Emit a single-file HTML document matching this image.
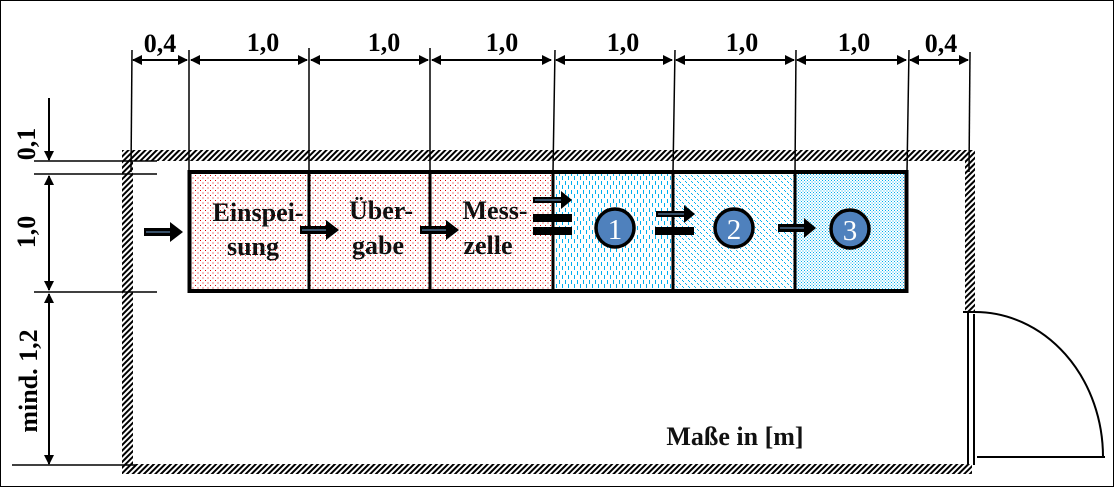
<!DOCTYPE html>
<html><head><meta charset="utf-8"><style>
html,body{margin:0;padding:0;background:#fff}
svg{display:block}
text{font-family:"Liberation Serif",serif;font-weight:bold}
</style></head><body>
<svg width="1114" height="487" viewBox="0 0 1114 487" xmlns="http://www.w3.org/2000/svg">
<defs>
<pattern id="hatch" width="4" height="4" patternUnits="userSpaceOnUse" patternTransform="rotate(45)">
<rect width="4" height="4" fill="#fff"/><rect width="2" height="4" fill="#000"/></pattern>
<pattern id="red" width="5" height="5" patternUnits="userSpaceOnUse">
<rect width="5" height="5" fill="#fff"/><rect x="0" y="0" width="1" height="1" fill="#d00"/><rect x="2.5" y="2.5" width="1" height="1" fill="#d00"/></pattern>
<pattern id="dash" width="6" height="9" patternUnits="userSpaceOnUse">
<rect width="6" height="9" fill="#fff"/><rect x="1" y="1" width="1" height="4" fill="#00aeef"/><rect x="4" y="5" width="1" height="4" fill="#00aeef"/></pattern>
<pattern id="chev" width="6" height="6" patternUnits="userSpaceOnUse">
<rect width="6" height="6" fill="#fff"/><rect x="1" y="1" width="1" height="1" fill="#00aeef"/><rect x="2" y="2" width="1" height="1" fill="#00aeef"/><rect x="4" y="4" width="1" height="1" fill="#00aeef"/><rect x="5" y="5" width="1" height="1" fill="#00aeef"/></pattern>
<pattern id="dot" width="3" height="3" patternUnits="userSpaceOnUse">
<rect width="3" height="3" fill="#fff"/><rect x="0" y="0" width="1" height="1" fill="#00aeef"/><rect x="1.5" y="1.5" width="1" height="1" fill="#00aeef"/></pattern>
<marker id="ah" markerWidth="10" markerHeight="10" refX="9" refY="5" orient="auto-start-reverse" markerUnits="userSpaceOnUse">
<path d="M0,0 L10,5 L0,10 z" fill="#000"/></marker>
</defs>
<rect x="0.5" y="0.5" width="1113" height="486" fill="#fff" stroke="#000"/>
<rect x="122" y="150" width="853" height="11" fill="url(#hatch)"/>
<rect x="122" y="150" width="11" height="324" fill="url(#hatch)"/>
<rect x="122" y="464" width="850" height="10" fill="url(#hatch)"/>
<rect x="965" y="150" width="10" height="162" fill="url(#hatch)"/>
<line x1="968" y1="312" x2="968" y2="465" stroke="#000" stroke-width="2"/>
<line x1="974" y1="314" x2="974" y2="465" stroke="#000" stroke-width="2"/>
<line x1="963" y1="312" x2="976" y2="312" stroke="#000" stroke-width="2"/>
<path d="M975,312 A128,145 0 0 1 1103,457" fill="none" stroke="#000" stroke-width="2"/>
<line x1="977" y1="457" x2="1105" y2="457" stroke="#000" stroke-width="2"/>
<rect x="189" y="172" width="364" height="119" fill="url(#red)"/>
<rect x="553" y="172" width="120" height="119" fill="url(#dash)"/>
<rect x="673" y="172" width="122" height="119" fill="url(#chev)"/>
<rect x="795" y="172" width="112" height="119" fill="url(#dot)"/>
<rect x="189.5" y="172" width="717" height="119" fill="none" stroke="#000" stroke-width="4"/>
<g stroke="#000" stroke-width="3">
<line x1="309" y1="172" x2="309" y2="291"/><line x1="430" y1="172" x2="430" y2="291"/>
<line x1="553" y1="172" x2="553" y2="291"/><line x1="673" y1="172" x2="673" y2="291"/>
<line x1="795" y1="172" x2="795" y2="291"/></g>
<g stroke="#000" stroke-width="1.5">
<line x1="132" y1="50" x2="131" y2="172"/><line x1="189" y1="50" x2="189" y2="172"/>
<line x1="309" y1="48" x2="309" y2="172"/><line x1="430" y1="48" x2="430" y2="172"/>
<line x1="555" y1="50" x2="553" y2="172"/><line x1="675" y1="50" x2="673" y2="172"/>
<line x1="796" y1="50" x2="795" y2="172"/><line x1="909" y1="50" x2="907" y2="172"/>
<line x1="970" y1="52" x2="969" y2="172"/>
</g>
<g stroke="#000" stroke-width="2" marker-start="url(#ah)" marker-end="url(#ah)">
<line x1="133" y1="60" x2="187" y2="60"/><line x1="191" y1="60" x2="307" y2="60"/>
<line x1="311" y1="60" x2="428" y2="60"/><line x1="432" y1="60" x2="551" y2="60"/>
<line x1="556" y1="60" x2="672" y2="60"/><line x1="676" y1="60" x2="794" y2="60"/>
<line x1="797" y1="60" x2="906" y2="60"/><line x1="910" y1="60" x2="968" y2="60"/>
</g>
<g font-size="26" text-anchor="middle">
<text x="160" y="52">0,4</text><text x="263" y="51">1,0</text><text x="384" y="51">1,0</text>
<text x="502" y="51">1,0</text><text x="623" y="51">1,0</text><text x="742" y="51">1,0</text>
<text x="854" y="51">1,0</text><text x="941" y="52">0,4</text>
</g>
<g stroke="#000" stroke-width="1.5">
<line x1="34" y1="161" x2="157" y2="161"/><line x1="34" y1="174" x2="157" y2="174"/>
<line x1="34" y1="292" x2="157" y2="292"/><line x1="12" y1="465" x2="135" y2="465"/>
</g>
<line x1="49" y1="98" x2="49" y2="160" stroke="#000" stroke-width="2" marker-end="url(#ah)"/>
<line x1="49" y1="176" x2="49" y2="290" stroke="#000" stroke-width="2" marker-start="url(#ah)" marker-end="url(#ah)"/>
<line x1="49" y1="294" x2="49" y2="464" stroke="#000" stroke-width="2" marker-start="url(#ah)" marker-end="url(#ah)"/>
<g font-size="26" text-anchor="middle">
<text transform="translate(35,144) rotate(-90)">0,1</text>
<text transform="translate(35,232) rotate(-90)">1,0</text>
<text transform="translate(37,381) rotate(-90)">mind. 1,2</text>
</g>
<g font-size="26" text-anchor="middle" fill="#111">
<text x="258" y="221">Einspei-</text><text x="253" y="255">sung</text>
<text x="381" y="219">Über-</text><text x="378" y="254">gabe</text>
<text x="495" y="219">Mess-</text><text x="488" y="254">zelle</text>
<text x="735" y="445">Maße in [m]</text>
</g>
<g>
<path d="M144,228 h26 v-6 l13,10 l-13,10 v-6 h-26z" fill="#000"/><line x1="146" y1="232" x2="170" y2="232" stroke="#4a6a8a" stroke-width="1.5"/>
<path d="M300,226 h26 v-6 l13,10 l-13,10 v-6 h-26z" fill="#000"/><line x1="302" y1="230" x2="326" y2="230" stroke="#4a6a8a" stroke-width="1.5"/>
<path d="M420,226 h26 v-6 l13,10 l-13,10 v-6 h-26z" fill="#000"/><line x1="422" y1="230" x2="446" y2="230" stroke="#4a6a8a" stroke-width="1.5"/>
<path d="M533,197 h28 v-6 l11,9 l-11,9 v-6 h-28z" fill="#000"/><line x1="535" y1="200" x2="561" y2="200" stroke="#4a6a8a" stroke-width="1.5"/>
<rect x="533" y="214" width="39" height="8" fill="#000"/><rect x="533" y="227" width="39" height="8" fill="#000"/>
<path d="M656,211 h28 v-6 l11,9 l-11,9 v-6 h-28z" fill="#000"/><line x1="658" y1="214" x2="684" y2="214" stroke="#4a6a8a" stroke-width="1.5"/>
<rect x="655" y="227" width="39" height="8" fill="#000"/>
<path d="M778,224 h26 v-6 l12,10 l-12,10 v-6 h-26z" fill="#000"/><line x1="780" y1="228" x2="804" y2="228" stroke="#4a6a8a" stroke-width="1.5"/>
</g>
<g stroke="#000" stroke-width="3.5" fill="#4f81bd">
<circle cx="615" cy="228" r="19"/><circle cx="734" cy="228" r="19"/><circle cx="850" cy="229" r="19"/>
</g>
<g font-size="29" text-anchor="middle" fill="#fff">
<text x="615" y="239" style="font-weight:normal">1</text><text x="734" y="239" style="font-weight:normal">2</text><text x="850" y="240" style="font-weight:normal">3</text>
</g>
</svg>
</body></html>
